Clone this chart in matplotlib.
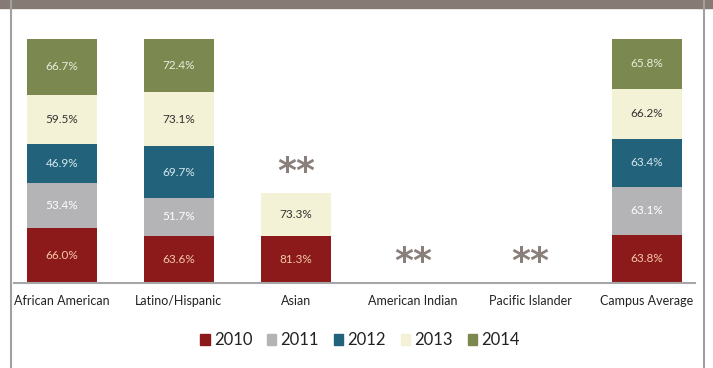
import matplotlib.pyplot as plt
import numpy as np
from matplotlib.patches import Rectangle
from matplotlib.lines import Line2D

groups = ["African American", "Latino/Hispanic", "Asian", "American Indian",
          "Pacific Islander", "Campus Average"]
years = ["2010", "2011", "2012", "2013", "2014"]

# nan = value suppressed (shown as **)
rate_2010 = [66.0, 63.6, 81.3, np.nan, np.nan, 63.8]
rate_2011 = [53.4, 51.7, np.nan, np.nan, np.nan, 63.1]
rate_2012 = [46.9, 69.7, np.nan, np.nan, np.nan, 63.4]
rate_2013 = [59.5, 73.1, 73.3, np.nan, np.nan, 66.2]
rate_2014 = [66.7, 72.4, np.nan, np.nan, np.nan, 65.8]
# share of the 100% stack taken by suppressed Asian years
hidden_total = [0, 0, 265.0, 0, 0, 0]

series = [rate_2010, rate_2011, rate_2012, rate_2013, rate_2014]
colors = ["#8c1a1a", "#b4b4b6", "#22627a", "#f3f2d6", "#7b8850"]
text_colors = ["#f3c9a8", "#ffffff", "#d5e8f0", "#333333", "#e9eddb"]

plt.rcParams['font.family'] = ['Lato', 'DejaVu Sans']

fig = plt.figure(figsize=(7.13, 3.68), dpi=100)
ax = fig.add_axes([3.5 / 713, 85 / 368, 702 / 713, 244 / 368])

data = np.array(series, dtype=float)
totals = np.nansum(data, axis=0) + np.array(hidden_total)
x = np.arange(len(groups))
bottom = np.zeros(len(groups))
for i, vals in enumerate(data):
    share = np.where(np.isnan(vals), 0, vals / np.where(totals == 0, 1, totals) * 100)
    ax.bar(x, share, bottom=bottom, width=0.6, color=colors[i], edgecolor="none")
    for j in range(len(groups)):
        if not np.isnan(vals[j]):
            ax.text(x[j], bottom[j] + share[j] / 2, f"{vals[j]:.1f}%", ha="center",
                    va="center", fontsize=8.5, color=text_colors[i])
    bottom = bottom + share

# ** markers for suppressed values
for j in range(len(groups)):
    if np.isnan(data[:, j]).any() and j != 5:
        ax.text(x[j], bottom[j] + 8.5, "**", ha="center", va="center", fontsize=26,
                fontweight="bold", color="#8a807b", family="DejaVu Sans")

ax.set_xlim(-0.5, 5.5)
ax.set_ylim(0, 100)
ax.axis("off")
ax.add_line(Line2D([0.015, 0.985], [0, 0], transform=ax.transAxes, color="#a6a6a6",
                   lw=1.5, clip_on=False))
for j, g in enumerate(groups):
    ax.text(x[j], -7.5, g, ha="center", va="center", fontsize=9, color="#222222")

# legend
handles = [Rectangle((0, 0), 1, 1, color=c) for c in colors]
fig.legend(handles, years, loc="center", bbox_to_anchor=(0.505, 0.075), ncol=5,
           frameon=False, fontsize=12, handlelength=0.55, handleheight=0.55,
           handletextpad=0.25, columnspacing=0.9, labelcolor="#222222")

# frame: top band and side borders
fig.add_artist(Rectangle((0, 1 - 8 / 368), 1, 8 / 368, transform=fig.transFigure,
                         color="#857a74", zorder=0))
fig.add_artist(Line2D([10.5 / 713, 10.5 / 713], [0, 1], transform=fig.transFigure,
                      color="#a0a0a0", lw=1.5))
fig.add_artist(Line2D([703.5 / 713, 703.5 / 713], [0, 1], transform=fig.transFigure,
                      color="#a0a0a0", lw=1.5))

fig.savefig("out.png", dpi=100)
